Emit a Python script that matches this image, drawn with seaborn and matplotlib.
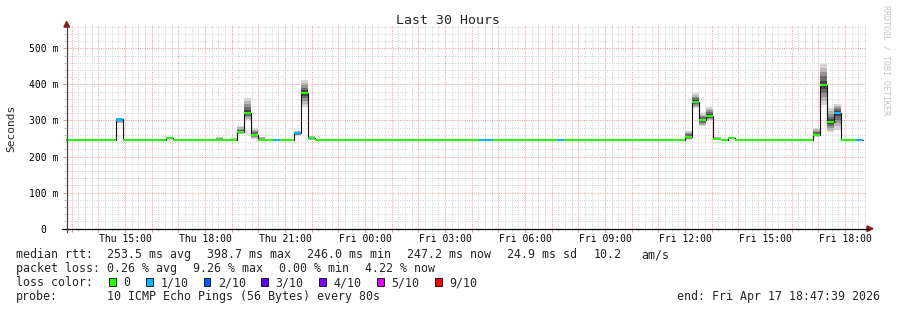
import numpy as np
import pandas as pd
import matplotlib
matplotlib.use("Agg")
import matplotlib.pyplot as plt
import seaborn as sns
from matplotlib.lines import Line2D
from matplotlib.patches import Polygon, Rectangle
from matplotlib.ticker import MultipleLocator

# ---------------- data ----------------
BIN_HOURS = 16 / 60                  # RRD consolidation step (16 min)
FIRST_BIN_HOUR = 12 + 32 / 60        # Thu 12:32, hours counted from Thu 00:00
N_BINS = 113
BASELINE_MS = 246.5                  # flat median level between the spikes
X_START = 12 + 47 / 60 + 39 / 3600   # Thu 12:47:39
X_END = X_START + 30                 # Fri 18:47:39
Y_TOP_MS = 564.7

# bins (counted from FIRST_BIN_HOUR) that differ from the baseline
event_bin = [8, 15, 22, 24, 25, 26, 27, 28, 30, 33, 34, 35, 59, 60, 70,
             88, 89, 90, 91, 92, 94, 106, 107, 108, 109, 112]
event_median_ms = [303.0, 250.5, 246.5, 246.5, 268.0, 321.6, 260.0, 246.5, 246.5, 264.5, 377.0, 250.5,
                   246.5, 246.5, 246.5,
                   255.0, 352.0, 300.5, 312.5, 249.5, 251.5, 259.0, 398.7, 295.0, 321.0, 246.5]
event_loss = [1, 0, 0, 0, 0, 0, 0, 0, 1, 1, 0, 0,
              1, 1, 1,
              0, 0, 0, 0, 0, 0, 0, 0, 0, 1, 1]
event_smoke_lo_ms = [292.0, 247.0, 246.0, 246.0, 262.0, 300.0, 250.0, 247.0, np.nan, 258.0, 338.0, 246.0,
                     np.nan, np.nan, np.nan,
                     246.0, 334.0, 285.0, 300.0, 246.0, 248.0, 255.0, 343.0, 267.0, 274.0, np.nan]
event_smoke_hi_ms = [308.0, 252.0, 253.0, 252.0, 284.0, 361.0, 278.0, 255.0, np.nan, 272.0, 412.0, 258.0,
                     np.nan, np.nan, np.nan,
                     271.0, 375.0, 320.0, 338.0, 254.0, 253.0, 280.0, 457.0, 335.0, 346.0, np.nan]

loss_levels = [0, 1, 2, 3, 4, 5, 9]
loss_labels = ["0", "1/10", "2/10", "3/10", "4/10", "5/10", "9/10"]
loss_colors = ["#26ff00", "#00b8ff", "#0059ff", "#5e00ff", "#7e00ff", "#dd00ff", "#ff0000"]

x_tick_hours = [15, 18, 21, 24, 27, 30, 33, 36, 39, 42]
x_tick_labels = ["Thu 15:00", "Thu 18:00", "Thu 21:00", "Fri 00:00", "Fri 03:00",
                 "Fri 06:00", "Fri 09:00", "Fri 12:00", "Fri 15:00", "Fri 18:00"]
y_tick_ms = [0, 100, 200, 300, 400, 500]
y_tick_labels = ["0  ", "100 m", "200 m", "300 m", "400 m", "500 m"]

title_text = "Last 30 Hours"
y_label_text = "Seconds"
watermark_text = "RRDTOOL / TOBI OETIKER"
rtt_stats = ["253.5 ms avg", "398.7 ms max", "246.0 ms min", "247.2 ms now", "24.9 ms sd", "10.2", "am/s"]
loss_stats = ["0.26 % avg", "9.26 % max", "0.00 % min", "4.22 % now"]
probe_text = "10 ICMP Echo Pings (56 Bytes) every 80s"
end_text = "end: Fri Apr 17 18:47:39 2026"

# ---------------- table ----------------
df = pd.DataFrame({"bin": np.arange(N_BINS)})
df["start"] = FIRST_BIN_HOUR + df["bin"] * BIN_HOURS
df["end"] = df["start"] + BIN_HOURS
df["median"] = BASELINE_MS
df["loss"] = 0
df["lo"] = np.nan
df["hi"] = np.nan
df.loc[event_bin, "median"] = event_median_ms
df.loc[event_bin, "loss"] = event_loss
df.loc[event_bin, "lo"] = event_smoke_lo_ms
df.loc[event_bin, "hi"] = event_smoke_hi_ms

# ---------------- figure ----------------
sns.set_theme(style="white")
plt.rcParams["font.family"] = ["DejaVu Sans Mono", "DejaVu Sans"]

W, H = 897, 310
fig = plt.figure(figsize=(W / 100, H / 100), dpi=100)
fig.patch.set_facecolor("white")

def fx(x):
    return x / W

def fy(y):
    return 1 - y / H

AX_L, AX_R, AX_T, AX_B = 66.2, 866.2, 25.0, 228.7
ax = fig.add_axes([fx(AX_L), fy(AX_B), (AX_R - AX_L) / W, (AX_B - AX_T) / H])
ax.set_facecolor("white")
for s in ax.spines.values():
    s.set_visible(False)

# smoke (graded grey bands)
smoke = df.dropna(subset=["lo"])
greys = ["#d4d4d4", "#b8b8b8", "#939393", "#6c6c6c", "#444444"]
for j, g in enumerate(greys):
    f = j / len(greys)
    bottom = smoke["lo"] + (smoke["median"] - smoke["lo"]) * f
    top = smoke["hi"] - (smoke["hi"] - smoke["median"]) * f
    ax.bar(smoke["start"], top - bottom, bottom=bottom, width=BIN_HOURS,
           align="edge", color=g, linewidth=0, zorder=2)

# median line
step_x = list(df["start"]) + [df["end"].iloc[-1]]
step_y = list(df["median"]) + [df["median"].iloc[-1]]
sns.lineplot(x=step_x, y=step_y, drawstyle="steps-post", color="#111111",
             linewidth=0.8, ax=ax, sort=False, estimator=None, zorder=3)

# loss-coloured median bands
BAND_MS = 6.2
for lvl, col in zip(loss_levels, loss_colors):
    sub = df[df["loss"] == lvl]
    if len(sub):
        ax.bar(sub["start"], BAND_MS, bottom=sub["median"] - BAND_MS / 2, width=BIN_HOURS,
               align="edge", color=col, linewidth=0, zorder=4)

ax.set_xlim(X_START, X_END)
ax.set_ylim(0, Y_TOP_MS)

major_hours = list(range(13, 43))
lab_map = dict(zip(x_tick_hours, x_tick_labels))
ax.set_xticks(major_hours)
ax.set_xticklabels([lab_map.get(h, "") for h in major_hours])
ax.xaxis.set_minor_locator(MultipleLocator(0.25))
ax.set_yticks(y_tick_ms)
ax.set_yticklabels(y_tick_labels)
ax.yaxis.set_minor_locator(MultipleLocator(20))
ax.set_xlabel("")
ax.set_ylabel("")

ax.grid(which="minor", color="#d2d2d2", linestyle=(0, (1, 1.3)), linewidth=0.72, zorder=0)
ax.grid(which="major", color="#f39a9a", linestyle=(0, (1, 1.3)), linewidth=0.72, zorder=0)
ax.set_axisbelow(True)

ax.tick_params(axis="both", which="major", length=2.2, width=0.7, color="#e88a8a",
               labelsize=7, labelcolor="#000000", bottom=True, left=True)
ax.tick_params(axis="both", which="minor", length=1.6, width=0.7, color="#c4c4c4",
               bottom=True, left=True)
ax.tick_params(axis="x", which="major", pad=1.8)
ax.tick_params(axis="y", which="major", pad=3.4)

# axis lines with arrows
fig.add_artist(Line2D([fx(62), fx(868)], [fy(AX_B), fy(AX_B)], color="#000000", lw=0.9))
fig.add_artist(Line2D([fx(66.7), fx(66.7)], [fy(231.7), fy(26)], color="#444444", lw=0.9))
arrow_c = "#8b1a1a"
fig.add_artist(Polygon([[fx(867), fy(AX_B - 2.8)], [fx(873), fy(AX_B)], [fx(867), fy(AX_B + 2.8)]],
                       closed=True, color=arrow_c, transform=fig.transFigure))
fig.add_artist(Polygon([[fx(63.9), fy(27)], [fx(66.7), fy(21.5)], [fx(69.5), fy(27)]],
                       closed=True, color=arrow_c, transform=fig.transFigure))

# texts
fig.text(fx(447.7), fy(24.3), title_text, fontsize=9.5, ha="center", va="baseline")
fig.text(fx(11), fy(128.5), y_label_text, fontsize=8, rotation=90, ha="center", va="center")
fig.text(fx(886), fy(60), watermark_text, fontsize=6, rotation=270, ha="center", va="center",
         color="#c4c4c4")

FS = 8.4
row_y = [258.3, 272.3, 286.0, 300.0]
fig.text(fx(16), fy(row_y[0]), "median rtt:", fontsize=FS, va="baseline")
for s, x in zip(rtt_stats, [107.3, 207.3, 307.3, 407.3, 506.7, 593.3, 641.7]):
    fig.text(fx(x), fy(row_y[0]), s, fontsize=FS, va="baseline")
fig.text(fx(16), fy(row_y[1]), "packet loss:", fontsize=FS, va="baseline")
for s, x in zip(loss_stats, [107.3, 193.3, 279.3, 365.0]):
    fig.text(fx(x), fy(row_y[1]), s, fontsize=FS, va="baseline")
fig.text(fx(16), fy(row_y[2]), "loss color:", fontsize=FS, va="baseline")
box_x = [109, 146, 203.7, 261.3, 319.3, 377.3, 435]
for lab, col, bx in zip(loss_labels, loss_colors, box_x):
    fig.add_artist(Rectangle((fx(bx), fy(286.3)), 6.7 / W, 8.6 / H, facecolor=col,
                             edgecolor="#000000", linewidth=0.6, transform=fig.transFigure))
    fig.text(fx(bx + 14.3), fy(row_y[2]), lab, fontsize=FS, va="baseline")
fig.text(fx(16), fy(row_y[3]), "probe:", fontsize=FS, va="baseline")
fig.text(fx(107.3), fy(row_y[3]), probe_text, fontsize=FS, va="baseline")
fig.text(fx(880), fy(row_y[3]), end_text, fontsize=FS, va="baseline", ha="right")

fig.savefig("out.png", dpi=100)
